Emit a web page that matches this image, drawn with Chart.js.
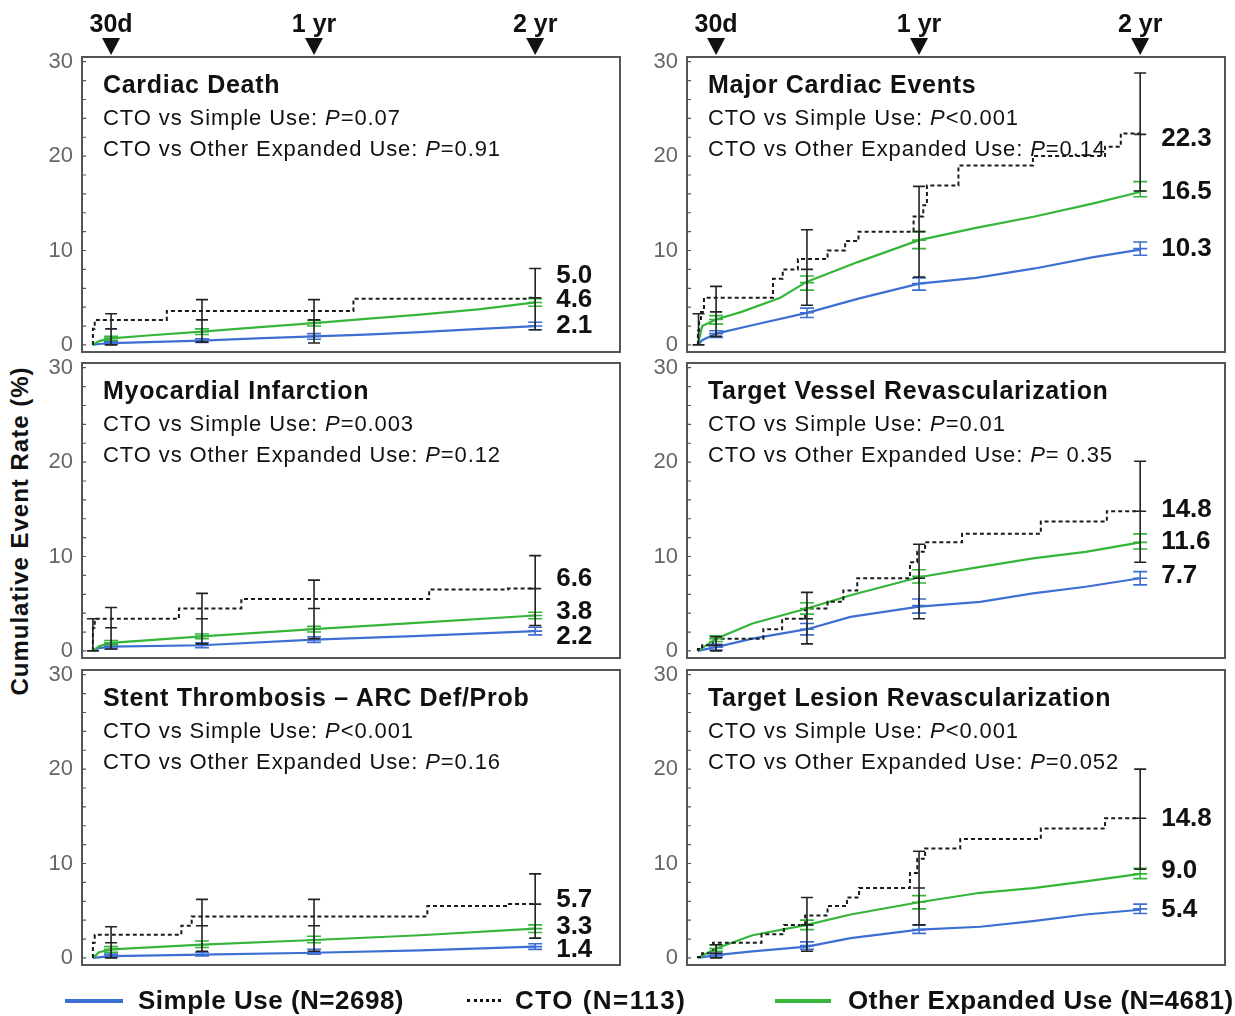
<!DOCTYPE html>
<html>
<head>
<meta charset="utf-8">
<script src="https://cdn.jsdelivr.net/npm/chart.js@4.4.0/dist/chart.umd.min.js"></script>
<style>
body{margin:0;background:#fff;width:1235px;height:1016px;position:relative;overflow:hidden;font-family:"Liberation Sans",Arial,sans-serif;color:#111}
canvas{position:absolute}
.ttl{position:absolute;font-weight:bold;font-size:25px;letter-spacing:0.7px;white-space:nowrap;line-height:1}
.sub{position:absolute;font-size:22px;letter-spacing:0.9px;white-space:nowrap;line-height:1}
#ytitle{position:absolute;left:20px;top:531px;transform:translate(-50%,-50%) rotate(-90deg);font-weight:bold;font-size:24px;letter-spacing:1px;white-space:nowrap}
.leg{position:absolute;top:985px;font-weight:bold;font-size:26px;letter-spacing:0.5px;white-space:nowrap;line-height:30px}
.sw{position:absolute;top:999px;height:0}
</style>
</head>
<body>
<div id="ytitle">Cumulative Event Rate (%)</div>

<script>
// time markers above the top panels / y ticks
const markerDays = [30, 365, 730];
const markerLabels = ['30d', '1 yr', '2 yr'];
const yTicks = [0, 10, 20, 30];

// each curve: [day, cumulative %]; CI: [day, low, estimate, high]

// Cardiac Death
const cdSimple = [[0,0],[10,0.1],[30,0.2],[90,0.3],[180,0.45],[270,0.7],[365,0.9],[450,1.1],[540,1.35],[640,1.7],[730,2.0]];
const cdOther  = [[0,0],[10,0.4],[30,0.7],[90,1.0],[180,1.4],[270,1.85],[365,2.3],[450,2.75],[540,3.2],[640,3.8],[730,4.5]];
const cdCTO    = [[0,0],[3,1.7],[122,2.65],[430,3.6],[716,4.9],[730,5.0]];
const cdCTOci    = [[30,0,1.7,3.3],[180,0.3,2.65,4.8],[365,0.2,2.65,4.8],[730,1.6,5.0,8.1]];
const cdOtherCI  = [[30,0.5,0.7,0.9],[180,1.1,1.4,1.7],[365,2.0,2.3,2.6],[730,4.1,4.5,4.9]];
const cdSimpleCI = [[30,0.05,0.2,0.35],[180,0.25,0.45,0.65],[365,0.6,0.9,1.2],[730,1.6,2.0,2.4]];
const cdLabels = [['5.0',7.3],['4.6',4.8],['2.1',2.0]];

// Major Cardiac Events
const maceSimple = [[0,0],[7,0.5],[30,1.2],[104,2.3],[180,3.4],[265,4.9],[365,6.5],[459,7.1],[556,8.1],[653,9.3],[730,10.1]];
const maceOther  = [[0,0],[7,2.0],[30,2.7],[72,3.5],[136,5.0],[180,6.7],[265,8.8],[365,11.1],[459,12.4],[556,13.6],[653,15.0],[730,16.2]];
const maceCTO    = [[0,0],[2,1.5],[5,2.5],[10,3.5],[124,5.0],[140,7.0],[165,8.0],[214,9.1],[243,10.0],[265,11.0],[356,12.0],[372,13.6],[378,14.8],[430,16.9],[553,19.0],[672,20.0],[698,21.0],[717,22.4],[730,22.4]];
const maceCTOci    = [[1,0,null,3.3],[30,0.9,3.5,6.2],[180,4.2,8.0,12.2],[365,7.2,12.0,16.8],[730,16.3,22.3,28.8]];
const maceOtherCI  = [[30,2.2,2.7,3.1],[180,5.8,6.6,7.3],[365,10.2,11.1,12.0],[730,15.7,16.3,17.3]];
const maceSimpleCI = [[30,0.8,1.2,1.5],[180,2.9,3.4,3.9],[365,5.8,6.5,7.1],[730,9.5,10.2,10.9]];
const maceLabels = [['22.3',21.8],['16.5',16.2],['10.3',10.2]];

// Myocardial Infarction
const miSimple = [[0,0],[10,0.3],[30,0.45],[180,0.6],[365,1.2],[540,1.6],[730,2.1]];
const miOther  = [[0,0],[10,0.5],[30,0.85],[180,1.55],[365,2.3],[540,3.0],[730,3.75]];
const miCTO    = [[0,0],[3,2.45],[142,3.4],[245,4.5],[555,5.5],[685,6.5],[730,6.6]];
const miCTOci    = [[0,0,null,3.4],[30,0.2,2.45,4.6],[180,0.75,3.4,6.1],[365,1.3,4.5,7.5],[730,2.7,6.6,10.1]];
const miOtherCI  = [[30,0.6,0.85,1.1],[180,1.3,1.55,1.8],[365,2.0,2.3,2.6],[730,3.4,3.75,4.1]];
const miSimpleCI = [[30,0.2,0.45,0.7],[180,0.35,0.6,0.85],[365,0.9,1.2,1.5],[730,1.7,2.1,2.5]];
const miLabels = [['6.6',7.6],['3.8',4.1],['2.2',1.5]];

// Target Vessel Revascularization
const tvrSimple = [[0,0],[30,0.4],[90,1.3],[180,2.3],[252,3.6],[365,4.7],[466,5.2],[553,6.1],[640,6.8],[730,7.7]];
const tvrOther  = [[0,0],[30,1.3],[90,2.9],[180,4.5],[252,5.9],[365,7.8],[466,8.9],[553,9.8],[640,10.5],[730,11.5]];
const tvrCTO    = [[0,0],[7,0.2],[25,0.6],[108,1.3],[139,2.3],[177,3.4],[214,4.5],[240,5.2],[263,6.4],[350,7.7],[362,9.4],[375,10.5],[436,11.5],[566,12.4],[675,13.7],[701,14.8],[730,14.8]];
const tvrCTOci    = [[30,0,0.6,1.5],[180,0.75,3.4,6.2],[365,3.4,7.7,11.3],[730,9.4,14.8,20.1]];
const tvrOtherCI  = [[30,1.0,1.3,1.6],[180,3.9,4.5,5.1],[365,7.2,7.9,8.6],[730,10.8,11.5,12.4]];
const tvrSimpleCI = [[30,0.1,0.4,0.7],[180,1.7,2.3,2.9],[365,4.0,4.8,5.5],[730,7.0,7.7,8.4]];
const tvrLabels = [['14.8',14.9],['11.6',11.6],['7.7',8.0]];

// Stent Thrombosis - ARC Def/Prob
const stSimple = [[0,0],[30,0.2],[180,0.35],[365,0.55],[540,0.8],[730,1.2]];
const stOther  = [[0,0],[10,0.6],[30,0.9],[180,1.4],[365,1.9],[540,2.4],[730,3.1]];
const stCTO    = [[0,0],[3,1.6],[146,2.45],[163,3.4],[552,4.4],[682,5.5],[730,5.7]];
const stCTOci    = [[30,0,1.6,3.3],[180,0.7,3.4,6.2],[365,0.7,3.4,6.2],[730,2.1,5.7,8.9]];
const stOtherCI  = [[30,0.6,0.9,1.2],[180,1.1,1.4,1.8],[365,1.6,1.9,2.3],[730,2.7,3.1,3.5]];
const stSimpleCI = [[30,0.05,0.2,0.4],[180,0.2,0.35,0.6],[365,0.4,0.6,0.9],[730,0.9,1.2,1.5]];
const stLabels = [['5.7',6.2],['3.3',3.3],['1.4',0.85]];

// Target Lesion Revascularization
const tlrSimple = [[0,0],[30,0.3],[90,0.7],[180,1.2],[252,2.1],[365,3.0],[466,3.3],[553,3.9],[640,4.6],[730,5.1]];
const tlrOther  = [[0,0],[30,1.0],[90,2.4],[180,3.5],[252,4.6],[365,5.9],[466,6.9],[553,7.4],[640,8.1],[730,8.9]];
const tlrCTO    = [[0,0],[7,0.1],[25,0.5],[105,1.6],[142,2.5],[177,3.5],[214,4.5],[246,5.5],[266,6.4],[350,7.4],[362,9.0],[375,10.5],[433,11.6],[566,12.6],[672,13.7],[701,14.8],[730,14.8]];
const tlrCTOci    = [[30,0,0.5,1.4],[180,0.7,3.5,6.4],[365,3.5,7.4,11.3],[730,9.4,14.8,20.0]];
const tlrOtherCI  = [[30,0.7,1.0,1.4],[180,3.0,3.5,4.0],[365,5.2,5.9,6.6],[730,8.4,8.9,9.5]];
const tlrSimpleCI = [[30,0.1,0.3,0.5],[180,0.9,1.3,1.7],[365,2.6,3.0,3.5],[730,4.7,5.2,5.7]];
const tlrLabels = [['14.8',14.7],['9.0',9.2],['5.4',5.1]];

const BLUE = '#3d6fd3', GREEN = '#35b53a', BLACK = '#1a1a1a';

const panels = [
  {col:0,row:0,title:'Cardiac Death',p1:'=0.07',p2:'=0.91',s:cdSimple,o:cdOther,c:cdCTO,sci:cdSimpleCI,oci:cdOtherCI,cci:cdCTOci,lab:cdLabels},
  {col:1,row:0,title:'Major Cardiac Events',p1:'<0.001',p2:'=0.14',s:maceSimple,o:maceOther,c:maceCTO,sci:maceSimpleCI,oci:maceOtherCI,cci:maceCTOci,lab:maceLabels},
  {col:0,row:1,title:'Myocardial Infarction',p1:'=0.003',p2:'=0.12',s:miSimple,o:miOther,c:miCTO,sci:miSimpleCI,oci:miOtherCI,cci:miCTOci,lab:miLabels},
  {col:1,row:1,title:'Target Vessel Revascularization',p1:'=0.01',p2:'= 0.35',s:tvrSimple,o:tvrOther,c:tvrCTO,sci:tvrSimpleCI,oci:tvrOtherCI,cci:tvrCTOci,lab:tvrLabels},
  {col:0,row:2,title:'Stent Thrombosis \u2013 ARC Def/Prob',p1:'<0.001',p2:'=0.16',s:stSimple,o:stOther,c:stCTO,sci:stSimpleCI,oci:stOtherCI,cci:stCTOci,lab:stLabels},
  {col:1,row:2,title:'Target Lesion Revascularization',p1:'<0.001',p2:'=0.052',s:tlrSimple,o:tlrOther,c:tlrCTO,sci:tlrSimpleCI,oci:tlrOtherCI,cci:tlrCTOci,lab:tlrLabels}
];

const colLeft = [82, 687], frameW = 538, frameH = 295;
const rowTop = [57, 363, 670];
const AXW = 44, PADB = 24;

const toXY = arr => arr.map(p => ({x: p[0], y: p[1]}));

const kmExtras = {
  id: 'kmExtras',
  afterDatasetsDraw(chart, args, opt) {
    const ctx = chart.ctx;
    const xs = chart.scales.x, ys = chart.scales.y;
    ctx.save();
    // confidence bars
    opt.ci.forEach(g => {
      ctx.strokeStyle = g.color; ctx.lineWidth = 1.6;
      g.data.forEach(d => {
        const x = xs.getPixelForValue(d[0]);
        const lo = ys.getPixelForValue(d[1]), hi = ys.getPixelForValue(d[3]);
        ctx.beginPath();
        ctx.moveTo(x, lo); ctx.lineTo(x, hi);
        ctx.moveTo(x - g.cap, lo); ctx.lineTo(x + g.cap, lo);
        ctx.moveTo(x - g.cap, hi); ctx.lineTo(x + g.cap, hi);
        if (d[2] !== null) {
          const m = ys.getPixelForValue(d[2]);
          ctx.moveTo(x - g.cap, m); ctx.lineTo(x + g.cap, m);
        }
        ctx.stroke();
      });
    });
    // end values at 2 yr
    ctx.fillStyle = '#111';
    ctx.font = 'bold 26px "Liberation Sans", Arial, sans-serif';
    ctx.textBaseline = 'middle'; ctx.textAlign = 'left';
    const xl = xs.getPixelForValue(730) + 21;
    opt.labels.forEach(l => ctx.fillText(l[0], xl, ys.getPixelForValue(l[1])));
    ctx.restore();
  },
  afterDraw(chart, args, opt) {
    const ctx = chart.ctx, a = chart.chartArea, ys = chart.scales.y, xs = chart.scales.x;
    ctx.save();
    ctx.strokeStyle = '#555'; ctx.lineWidth = 2;
    ctx.strokeRect(a.left, a.top, a.right - a.left, a.bottom - a.top);
    ctx.lineWidth = 1.2;
    ctx.beginPath();
    for (let v = 0; v <= 30; v += 2) {
      const y = ys.getPixelForValue(v);
      ctx.moveTo(a.left, y); ctx.lineTo(a.left + 4, y);
    }
    ctx.stroke();
    if (opt.markers) {
      ctx.fillStyle = '#111';
      ctx.font = 'bold 25px "Liberation Sans", Arial, sans-serif';
      ctx.textAlign = 'center'; ctx.textBaseline = 'alphabetic';
      markerDays.forEach((d, i) => {
        const x = xs.getPixelForValue(d);
        ctx.beginPath();
        ctx.moveTo(x - 9, a.top - 19); ctx.lineTo(x + 9, a.top - 19); ctx.lineTo(x, a.top - 2);
        ctx.closePath(); ctx.fill();
        ctx.fillText(markerLabels[i], x, a.top - 25);
      });
    }
    ctx.restore();
  }
};

panels.forEach(p => {
  const padTop = p.row === 0 ? 57 : 24;
  const cv = document.createElement('canvas');
  cv.width = AXW + frameW + 2;
  cv.height = padTop + frameH + PADB;
  cv.style.left = (colLeft[p.col] - AXW) + 'px';
  cv.style.top = (rowTop[p.row] - padTop) + 'px';
  document.body.appendChild(cv);

  const fl = colLeft[p.col] + 21, ft = rowTop[p.row];
  const t = document.createElement('div');
  t.className = 'ttl'; t.textContent = p.title;
  t.style.left = fl + 'px'; t.style.top = (ft + 15) + 'px';
  document.body.appendChild(t);
  const s1 = document.createElement('div');
  s1.className = 'sub'; s1.innerHTML = 'CTO vs Simple Use: <i>P</i>' + p.p1.replace('<', '&lt;');
  s1.style.left = fl + 'px'; s1.style.top = (ft + 50) + 'px';
  document.body.appendChild(s1);
  const s2 = document.createElement('div');
  s2.className = 'sub'; s2.innerHTML = 'CTO vs Other Expanded Use: <i>P</i>' + p.p2;
  s2.style.left = fl + 'px'; s2.style.top = (ft + 81) + 'px';
  document.body.appendChild(s2);

  new Chart(cv.getContext('2d'), {
    type: 'line',
    data: {
      datasets: [
        {label: 'CTO', data: toXY(p.c), stepped: 'after', borderColor: BLACK, borderWidth: 2, borderDash: [4, 3], order: 0},
        {label: 'Other Expanded Use', data: toXY(p.o), borderColor: GREEN, borderWidth: 2.2, order: 1},
        {label: 'Simple Use', data: toXY(p.s), borderColor: BLUE, borderWidth: 2.2, order: 2}
      ]
    },
    options: {
      responsive: false,
      animation: false,
      devicePixelRatio: 1,
      elements: {point: {radius: 0}, line: {tension: 0}},
      layout: {padding: {top: padTop, right: 2, bottom: PADB, left: 0}},
      plugins: {
        legend: {display: false}, tooltip: {enabled: false},
        kmExtras: {
          markers: p.row === 0,
          labels: p.lab,
          ci: [
            {color: BLUE, cap: 7, data: p.sci},
            {color: GREEN, cap: 7, data: p.oci},
            {color: '#222', cap: 6, data: p.cci}
          ]
        }
      },
      scales: {
        x: {type: 'linear', min: -18, max: 870, display: false},
        y: {
          min: -0.75, max: 30.5,
          afterBuildTicks: sc => { sc.ticks = yTicks.map(v => ({value: v})); },
          afterFit: sc => { sc.width = AXW; },
          grid: {display: false, drawTicks: false},
          border: {display: false},
          ticks: {color: '#666', padding: 9, font: {size: 22, family: '"Liberation Sans", Arial, sans-serif'}}
        }
      }
    },
    plugins: [kmExtras]
  });
});
</script>

<div class="sw" style="left:65px;width:58px;border-top:4px solid #3d6fd3"></div>
<div class="leg" style="left:138px">Simple Use (N=2698)</div>
<div class="sw" style="left:467px;width:34px;border-top:3px dotted #111"></div>
<div class="leg" style="left:515px;letter-spacing:1.5px">CTO (N=113)</div>
<div class="sw" style="left:775px;width:56px;border-top:4px solid #35b53a"></div>
<div class="leg" style="left:848px">Other Expanded Use (N=4681)</div>
</body>
</html>
